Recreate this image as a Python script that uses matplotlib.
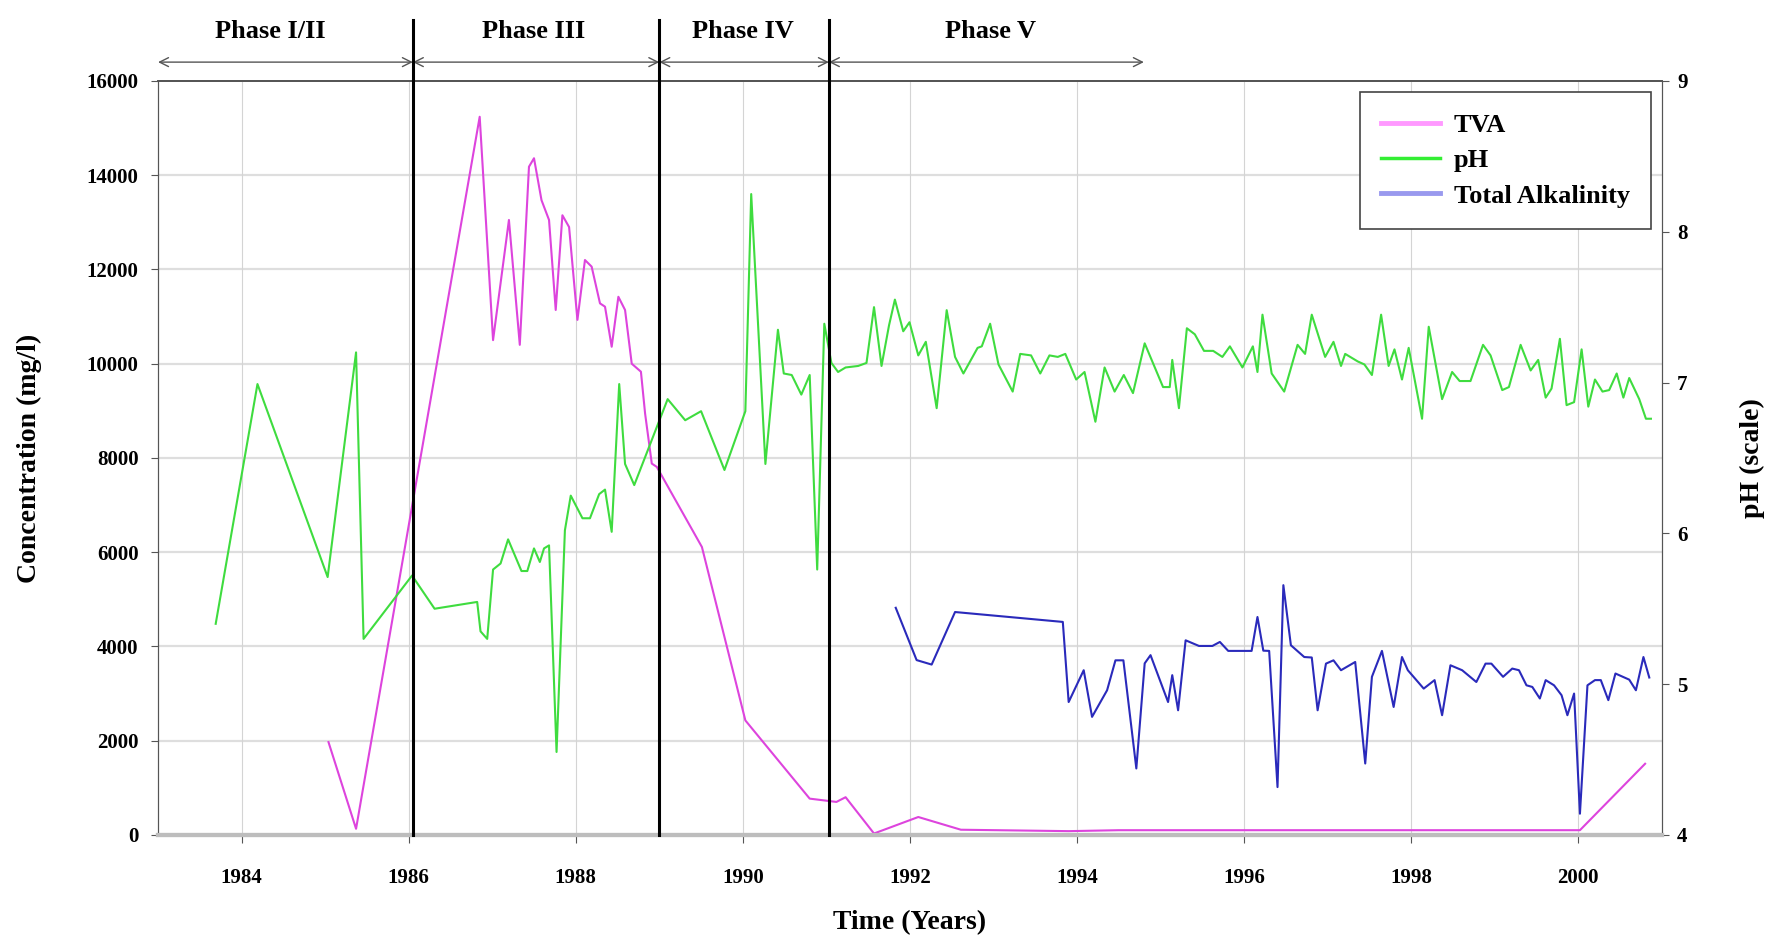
import matplotlib
matplotlib.use("Agg")
import matplotlib.pyplot as plt
from matplotlib.lines import Line2D

plt.rcParams['font.family'] = ['Liberation Serif', 'DejaVu Serif']
plt.rcParams['font.weight'] = 'bold'

# TVA (mg/l), left axis
tva_year = [1985.04, 1985.37, 1986.85, 1987.01, 1987.20, 1987.33, 1987.44, 1987.50,
            1987.59, 1987.68, 1987.76, 1987.84, 1987.92, 1988.02, 1988.11, 1988.19,
            1988.29, 1988.35, 1988.43, 1988.51, 1988.59, 1988.67, 1988.78, 1988.83,
            1988.91, 1988.97, 1989.51, 1990.03, 1990.80, 1991.12, 1991.23, 1991.57,
            1992.10, 1992.61, 1993.90, 1994.50, 2000.02, 2000.80]
tva_val = [1970, 130, 15240, 10500, 13050, 10400, 14180, 14360,
           13470, 13050, 11140, 13150, 12900, 10930, 12200, 12060,
           11280, 11210, 10360, 11420, 11140, 10000, 9830, 8940,
           7880, 7810, 6110, 2430, 770, 700, 800, 30,
           380, 110, 80, 100, 100, 1510]

# Total alkalinity (mg/l), left axis
alk_year = [1991.83, 1992.08, 1992.26, 1992.54, 1993.83, 1993.90, 1994.08, 1994.18,
            1994.36, 1994.46, 1994.555, 1994.71, 1994.81, 1994.88, 1995.09, 1995.14,
            1995.21, 1995.30, 1995.46, 1995.62, 1995.71, 1995.81, 1996.09, 1996.16,
            1996.23, 1996.30, 1996.40, 1996.47, 1996.56, 1996.72, 1996.81, 1996.88,
            1996.98, 1997.07, 1997.16, 1997.33, 1997.45, 1997.53, 1997.65, 1997.79,
            1997.89, 1997.96, 1998.15, 1998.28, 1998.37, 1998.47, 1998.61, 1998.78,
            1998.89, 1998.96, 1999.10, 1999.21, 1999.29, 1999.38, 1999.45, 1999.54,
            1999.61, 1999.71, 1999.80, 1999.87, 1999.95, 2000.02, 2000.11, 2000.20,
            2000.27, 2000.36, 2000.445, 2000.61, 2000.69, 2000.78, 2000.85]
alk_val = [4820, 3710, 3615, 4730, 4520, 2820, 3495, 2505,
           3070, 3705, 3705, 1410, 3640, 3815, 2820, 3390,
           2645, 4130, 4010, 4010, 4095, 3905, 3905, 4625,
           3910, 3905, 1015, 5300, 4025, 3775, 3765, 2645,
           3635, 3705, 3495, 3670, 1515, 3355, 3905, 2715,
           3775, 3495, 3105, 3285, 2540, 3600, 3495, 3245,
           3635, 3635, 3355, 3530, 3495, 3175, 3140, 2895,
           3285, 3175, 2965, 2540, 3000, 450, 3175, 3285,
           3285, 2860, 3425, 3295, 3070, 3775, 3340]

# pH, right axis
ph_year = [1983.69, 1984.19, 1985.03, 1985.37, 1985.46, 1986.04, 1986.31, 1986.82,
           1986.86, 1986.94, 1987.01, 1987.10, 1987.19, 1987.35, 1987.42, 1987.50,
           1987.57, 1987.62, 1987.68, 1987.77, 1987.87, 1987.94, 1988.08, 1988.17,
           1988.28, 1988.35, 1988.43, 1988.52, 1988.59, 1988.70, 1989.10, 1989.31,
           1989.50, 1989.78, 1990.03, 1990.10, 1990.27, 1990.42, 1990.49, 1990.585,
           1990.70, 1990.80, 1990.89, 1990.975, 1991.06, 1991.14, 1991.23, 1991.38,
           1991.48, 1991.57, 1991.66, 1991.75, 1991.82, 1991.92, 1991.995, 1992.10,
           1992.19, 1992.32, 1992.44, 1992.54, 1992.64, 1992.81, 1992.86, 1992.96,
           1993.06, 1993.23, 1993.32, 1993.45, 1993.56, 1993.67, 1993.77, 1993.86,
           1993.99, 1994.09, 1994.22, 1994.33, 1994.45, 1994.56, 1994.67, 1994.81,
           1995.03, 1995.11, 1995.14, 1995.22, 1995.315, 1995.41, 1995.52, 1995.63,
           1995.74, 1995.83, 1995.98, 1996.105, 1996.16, 1996.22, 1996.33, 1996.48,
           1996.64, 1996.73, 1996.81, 1996.97, 1997.07, 1997.16, 1997.21, 1997.36,
           1997.44, 1997.53, 1997.64, 1997.73, 1997.80, 1997.89, 1997.97, 1998.13,
           1998.21, 1998.37, 1998.49, 1998.58, 1998.71, 1998.86, 1998.95, 1999.09,
           1999.17, 1999.31, 1999.43, 1999.52, 1999.61, 1999.68, 1999.78, 1999.86,
           1999.95, 2000.04, 2000.12, 2000.20, 2000.29, 2000.37, 2000.46, 2000.54,
           2000.61, 2000.73, 2000.81, 2000.87]
ph_val = [5.40, 6.99, 5.71, 7.20, 5.30, 5.72, 5.50, 5.545,
          5.35, 5.30, 5.76, 5.80, 5.96, 5.75, 5.75, 5.90,
          5.81, 5.90, 5.92, 4.55, 6.02, 6.25, 6.10, 6.10,
          6.26, 6.29, 6.01, 6.99, 6.46, 6.32, 6.89, 6.75,
          6.81, 6.42, 6.81, 8.25, 6.46, 7.35, 7.06, 7.05,
          6.92, 7.05, 5.76, 7.39, 7.13, 7.07, 7.10, 7.11,
          7.13, 7.50, 7.11, 7.38, 7.55, 7.34, 7.40, 7.18,
          7.27, 6.83, 7.48, 7.17, 7.06, 7.23, 7.24, 7.39,
          7.12, 6.94, 7.19, 7.18, 7.06, 7.18, 7.17, 7.19,
          7.02, 7.07, 6.74, 7.10, 6.94, 7.05, 6.93, 7.26,
          6.97, 6.97, 7.15, 6.83, 7.36, 7.32, 7.21, 7.21,
          7.17, 7.24, 7.10, 7.24, 7.07, 7.45, 7.06, 6.94,
          7.25, 7.19, 7.45, 7.17, 7.27, 7.11, 7.19, 7.14,
          7.12, 7.05, 7.45, 7.11, 7.22, 7.02, 7.23, 6.76,
          7.37, 6.89, 7.07, 7.01, 7.01, 7.25, 7.18, 6.95,
          6.97, 7.25, 7.08, 7.15, 6.90, 6.96, 7.29, 6.85,
          6.87, 7.22, 6.84, 7.02, 6.94, 6.95, 7.06, 6.90,
          7.03, 6.89, 6.76, 6.76]

# phase boundaries (years)
phase_edges = [1983.0, 1986.05, 1989.0, 1991.03, 1994.8]
phase_names = ['Phase I/II', 'Phase III', 'Phase IV', 'Phase V']
phase_label_x = [1984.34, 1987.49, 1990.0, 1992.97]

fig = plt.figure(figsize=(17.66, 9.36), dpi=100)
ax = fig.add_subplot(111)
fig.subplots_adjust(left=0.0895, right=0.941, top=0.9135, bottom=0.108)
ax2 = ax.twinx()

ax.set_xlim(1983, 2001)
ax.set_ylim(0, 16000)
ax2.set_ylim(4, 9)
ax.set_xticks(range(1984, 2001, 2))
ax.set_yticks(range(0, 16001, 2000))
ax2.set_yticks(range(4, 10))

for y in range(2000, 16000, 2000):
    ax.axhline(y, color='#dedede', lw=1.6, zorder=0)
for x in range(1984, 2001, 2):
    ax.axvline(x, color='#d4d4d4', lw=0.8, zorder=0)

ax.plot(tva_year, tva_val, color='#dd44dd', lw=1.5, zorder=3)
ax.plot(alk_year, alk_val, color='#2a2abb', lw=1.5, zorder=3)
ax2.plot(ph_year, ph_val, color='#3fdc3f', lw=1.5, zorder=3)

# phase separators, arrows and titles above the plot
trans = ax.get_xaxis_transform()
for xv in phase_edges[1:4]:
    ax2.plot([xv, xv], [0, 1.081], transform=trans, color='black', lw=2.2,
             clip_on=False, zorder=6)
for i in range(len(phase_names)):
    ax.annotate('', xy=(phase_edges[i + 1], 1.025), xytext=(phase_edges[i], 1.025),
                xycoords=trans, textcoords=trans, annotation_clip=False,
                arrowprops=dict(arrowstyle='<->', color='#555555', lw=1.0,
                                shrinkA=0, shrinkB=0, mutation_scale=16))
    ax.text(phase_label_x[i], 1.066, phase_names[i], transform=trans,
            ha='center', va='center', fontsize=19, fontweight='bold')

for a in (ax, ax2):
    a.spines['top'].set_color('#555555')
    a.spines['top'].set_linewidth(1.3)
    a.spines['left'].set_color('#555555')
    a.spines['right'].set_color('#555555')
    a.spines['bottom'].set_color('#bdbdbd')
    a.spines['bottom'].set_linewidth(3)

ax.tick_params(axis='x', direction='out', length=6, pad=18, labelsize=15, color='#555555')
ax.tick_params(axis='y', direction='out', length=5, pad=9, labelsize=15, color='#555555')
ax2.tick_params(axis='y', direction='out', length=5, pad=6, labelsize=15, color='#555555')

ax.set_xlabel('Time (Years)', fontsize=20, fontweight='bold')
ax.xaxis.set_label_coords(0.5, -0.100)
ax.set_ylabel('Concentration (mg/l)', fontsize=20, fontweight='bold')
ax.yaxis.set_label_coords(-0.077, 0.5)
ax2.set_ylabel('pH (scale)', fontsize=20, fontweight='bold')
ax2.yaxis.set_label_coords(1.052, 0.5)

handles = [Line2D([], [], color='#ff99ff', lw=3.5),
           Line2D([], [], color='#33ee33', lw=2.5),
           Line2D([], [], color='#9999ee', lw=3.5)]
leg = ax2.legend(handles, ['TVA', 'pH', 'Total Alkalinity'], loc='upper right',
                 bbox_to_anchor=(0.993, 0.985), fontsize=19, fancybox=False,
                 framealpha=1, edgecolor='#444444', borderpad=0.8,
                 labelspacing=0.45, handlelength=2.2, handletextpad=0.55,
                 borderaxespad=0)
leg.get_frame().set_linewidth(1.2)
leg.set_zorder(10)

fig.savefig('out.png', dpi=100)
